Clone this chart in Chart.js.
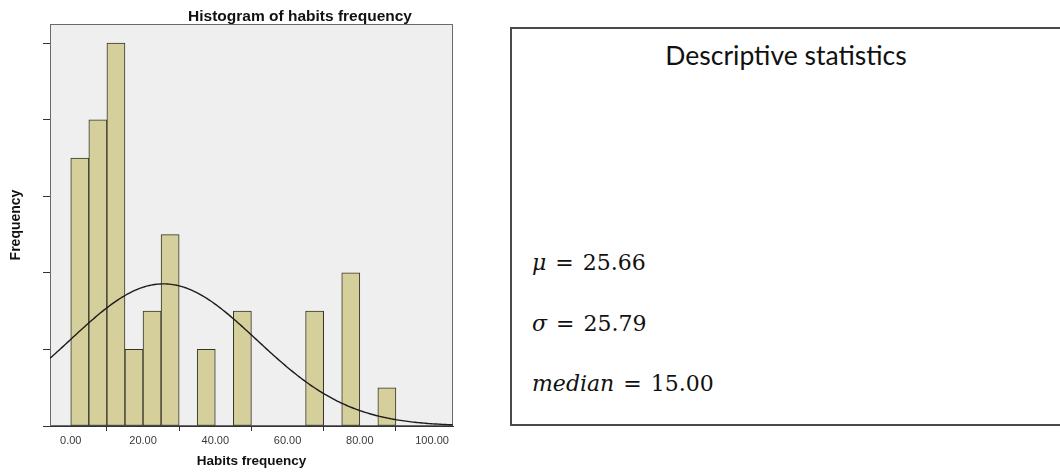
<!DOCTYPE html>
<html>
<head>
<meta charset="utf-8">
<script src="https://cdn.jsdelivr.net/npm/chart.js@4.4.1/dist/chart.umd.min.js"></script>
<style>
  html, body { margin: 0; padding: 0; background: #fff; width: 1060px; height: 472px; overflow: hidden; }
  #hist { position: absolute; left: 0; top: 0; }
  #stats {
    position: absolute; left: 510px; top: 27px; width: 600px; height: 395px;
    border: 2px solid #4a4a4a; background: #fff;
  }
  #stats .head {
    position: absolute; left: 0; top: 13px; width: 548px; text-align: center;
    font-family: Lato, "Open Sans", sans-serif; font-size: 26.5px; line-height: 26.5px; color: #111;
  }
  #stats .row {
    position: absolute; left: 20px;
    font-family: "DejaVu Serif", serif; font-size: 22px; line-height: 22px; color: #111;
    word-spacing: 2px; white-space: nowrap;
  }
  #stats .row i { font-style: italic; }
</style>
</head>
<body>
<canvas id="hist" width="470" height="472"></canvas>
<div id="stats">
  <div class="head" id="statsHead"></div>
  <div class="row" id="rowMean" style="top:223px"></div>
  <div class="row" id="rowSd" style="top:284px"></div>
  <div class="row" id="rowMedian" style="top:344px"></div>
</div>
<script>
// Histogram bins: lower edge of each non-empty bin and its count
const BIN_START = [0, 5, 10, 15, 20, 25, 35, 45, 65, 75, 85];
const BIN_COUNT = [7, 8, 10, 2, 3, 5, 2, 3, 3, 4, 1];
const BIN_WIDTH = 5;

// Axis ticks and ranges
const X_TICKS = [0, 20, 40, 60, 80, 100];
const Y_TICKS = [0, 2, 4, 6, 8, 10];
const X_MIN = -5.75, X_MAX = 105.8;
const Y_MAX = 10.5;

// Summary statistics
const MEAN = 25.66;
const SD = 25.79;
const MEDIAN = 15.00;

// Texts
const TITLE = 'Histogram of habits frequency';
const X_TITLE = 'Habits frequency';
const Y_TITLE = 'Frequency';
const STATS_TITLE = 'Descriptive statistics';

// Bars centred in their bins
const barPoints = BIN_START.map((s, i) => ({ x: s + BIN_WIDTH / 2, y: BIN_COUNT[i] }));

// Fitted normal curve, scaled to counts per bin
const total = BIN_COUNT.reduce((a, b) => a + b, 0);
const peak = total * BIN_WIDTH / (SD * Math.sqrt(2 * Math.PI));
const curvePoints = [];
for (let x = X_MIN; x <= X_MAX + 1e-9; x += 0.5) {
  const z = (x - MEAN) / SD;
  curvePoints.push({ x: x, y: peak * Math.exp(-0.5 * z * z) });
}

const SANS = 'Arial, "Liberation Sans", sans-serif';

const plotFrame = {
  id: 'plotFrame',
  beforeDraw(chart) {
    const { ctx, chartArea: a } = chart;
    ctx.save();
    ctx.fillStyle = '#efefef';
    ctx.fillRect(a.left, a.top, a.width, a.height);
    ctx.restore();
  },
  beforeDatasetsDraw(chart) {
    const { ctx, chartArea: a } = chart;
    ctx.save();
    ctx.strokeStyle = '#6a6a6a';
    ctx.lineWidth = 1;
    ctx.strokeRect(a.left + 0.5, a.top + 0.5, a.width - 1, a.height - 1);
    ctx.restore();
  }
};

const histTitle = {
  id: 'histTitle',
  afterDraw(chart) {
    const ctx = chart.ctx;
    ctx.save();
    ctx.font = 'bold 15.5px ' + SANS;
    ctx.fillStyle = '#111';
    ctx.textAlign = 'center';
    ctx.textBaseline = 'alphabetic';
    ctx.fillText(TITLE, 300, 20.5);
    ctx.restore();
  }
};

new Chart(document.getElementById('hist'), {
  type: 'bar',
  data: {
    datasets: [
      {
        type: 'line',
        data: curvePoints,
        borderColor: '#1c1c1c',
        borderWidth: 1.4,
        pointRadius: 0,
        tension: 0,
        fill: false,
        order: 0
      },
      {
        type: 'bar',
        data: barPoints,
        backgroundColor: '#d5cf9b',
        borderColor: '#34342a',
        borderWidth: 1,
        borderSkipped: false,
        barPercentage: 1,
        categoryPercentage: 1,
        order: 1
      }
    ]
  },
  options: {
    responsive: false,
    animation: false,
    devicePixelRatio: 1,
    layout: { padding: { left: 0, right: 17, top: 24, bottom: 0 } },
    plugins: { legend: { display: false }, tooltip: { enabled: false }, title: { display: false } },
    scales: {
      x: {
        type: 'linear',
        min: X_MIN,
        max: X_MAX,
        offset: false,
        afterBuildTicks: s => { s.ticks = X_TICKS.map(v => ({ value: v })); },
        afterFit: s => { s.height = 46; },
        grid: { display: true, drawOnChartArea: false, drawTicks: true, tickLength: 5, color: '#333', lineWidth: 1 },
        border: { display: true, color: '#333', width: 1 },
        ticks: {
          callback: v => Number(v).toFixed(2),
          font: { family: SANS, size: 11 },
          color: '#3a3a3a',
          padding: 3,
          maxRotation: 0,
          autoSkip: false
        },
        title: {
          display: true,
          text: X_TITLE,
          font: { family: SANS, size: 13.5, weight: 'bold' },
          color: '#111',
          padding: { top: 0, bottom: 3 }
        }
      },
      y: {
        type: 'linear',
        min: 0,
        max: Y_MAX,
        afterBuildTicks: s => { s.ticks = Y_TICKS.map(v => ({ value: v })); },
        afterFit: s => { s.width = 50; },
        grid: { display: true, drawOnChartArea: false, drawTicks: true, tickLength: 7, color: '#333', lineWidth: 1 },
        border: { display: true, color: '#333', width: 1 },
        ticks: { callback: () => '', padding: 0 },
        title: {
          display: true,
          text: Y_TITLE,
          font: { family: SANS, size: 14, weight: 'bold' },
          color: '#111',
          padding: { top: 8, bottom: 0 }
        }
      }
    }
  },
  plugins: [plotFrame, histTitle]
});

// Statistics panel
document.getElementById('statsHead').textContent = STATS_TITLE;
document.getElementById('rowMean').innerHTML = '<i>μ</i> = ' + MEAN.toFixed(2);
document.getElementById('rowSd').innerHTML = '<i>σ</i> = ' + SD.toFixed(2);
document.getElementById('rowMedian').innerHTML = '<i>median</i> = ' + MEDIAN.toFixed(2);
</script>
</body>
</html>
